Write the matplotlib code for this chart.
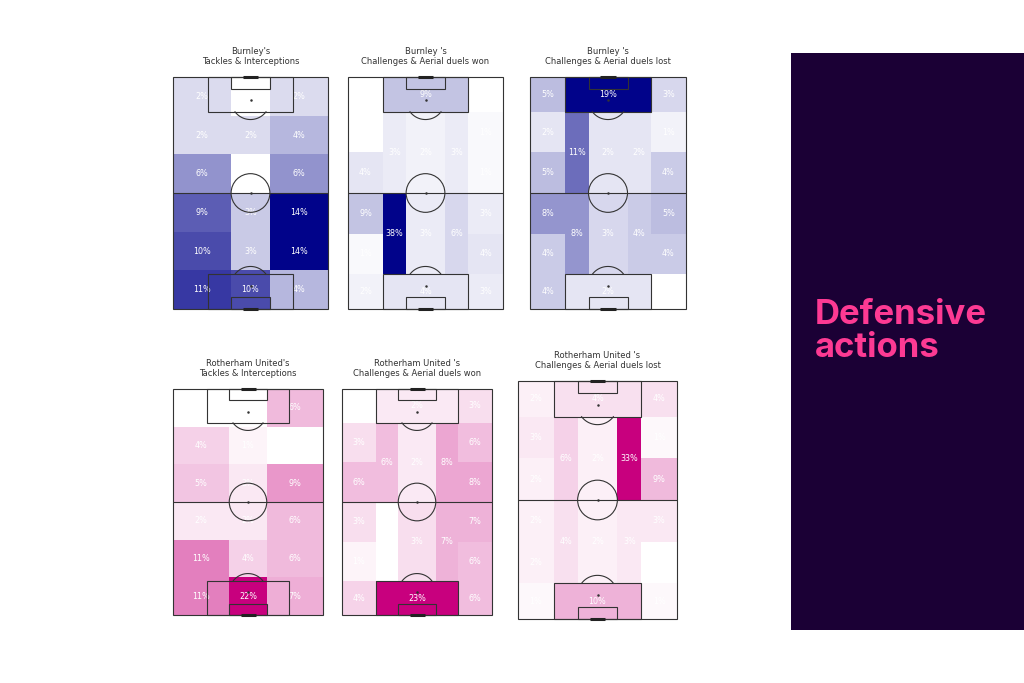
import numpy as np
import matplotlib
matplotlib.use("Agg")
import matplotlib.pyplot as plt
from matplotlib.patches import Rectangle, Circle
from matplotlib.colors import LinearSegmentedColormap

# ---- data (percent of actions per zone, rows top -> bottom) ----
# 3 x 6 grid: columns left / centre / right
bur_tackles = [[2, 0, 2],
               [2, 2, 4],
               [6, 0, 6],
               [9, 3, 14],
               [10, 3, 14],
               [11, 10, 4]]
rot_tackles = [[0, 0, 6],
               [4, 1, 0],
               [5, 2, 9],
               [2, 2, 6],
               [11, 4, 6],
               [11, 22, 7]]

# positional zones: wide columns (6 rows), inner columns (2 rows), boxes (top, bottom)
bur_won_left = [0, 0, 4, 9, 1, 2]
bur_won_right = [0, 1, 1, 3, 4, 3]
bur_won_inner = [[3, 2, 3], [38, 3, 6]]
bur_won_boxes = [9, 4]

bur_lost_left = [5, 2, 5, 8, 4, 4]
bur_lost_right = [3, 1, 4, 5, 4, 0]
bur_lost_inner = [[11, 2, 2], [8, 3, 4]]
bur_lost_boxes = [19, 2]

rot_won_left = [0, 3, 6, 3, 1, 4]
rot_won_right = [3, 6, 8, 7, 6, 6]
rot_won_inner = [[6, 2, 8], [0, 3, 7]]
rot_won_boxes = [2, 23]

rot_lost_left = [2, 3, 2, 2, 2, 1]
rot_lost_right = [4, 1, 9, 3, 0, 1]
rot_lost_inner = [[6, 2, 33], [4, 2, 3]]
rot_lost_boxes = [4, 10]

titles = ["Burnley's\nTackles & Interceptions",
          "Burnley 's\nChallenges & Aerial duels won",
          "Burnley 's\nChallenges & Aerial duels lost",
          "Rotherham United's\nTackles & Interceptions",
          "Rotherham United 's\nChallenges & Aerial duels won",
          "Rotherham United 's\nChallenges & Aerial duels lost"]

# pitch geometry (statsbomb, vertical)
grid_x = [0, 30, 50, 80]
grid_y = [0, 20, 40, 60, 80, 100, 120]
pos_x = [0, 18, 30, 50, 62, 80]
pos_y = [0, 18, 39, 60, 81, 102, 120]

blues = LinearSegmentedColormap.from_list("bur", ["#ffffff", "#01038a"])
pinks = LinearSegmentedColormap.from_list("rot", ["#ffffff", "#c8007e"])
LINE = "#333333"


def draw_pitch(ax):
    kw = dict(fill=False, ec=LINE, lw=0.8, clip_on=False, zorder=3)
    ax.add_patch(Rectangle((0, 0), 80, 120, **kw))
    ax.plot([0, 80], [60, 60], color=LINE, lw=0.8, zorder=3)
    ax.add_patch(Circle((40, 60), 10, **kw))
    ax.plot(40, 60, 'o', color=LINE, ms=0.8, zorder=3)
    for y0, sgn in [(0, 1), (120, -1)]:
        ax.add_patch(Rectangle((18, y0 if sgn == 1 else 102), 44, 18, **kw))
        ax.add_patch(Rectangle((30, y0 if sgn == 1 else 114), 20, 6, **kw))
        spot = y0 + sgn * 12
        ax.plot(40, spot, 'o', color=LINE, ms=0.8, zorder=3)
        # penalty arc: part of the 10-yard circle outside the box
        th = np.linspace(np.radians(36.87), np.radians(143.13), 60)
        ax.plot(40 + 10 * np.cos(th), spot + sgn * 10 * np.sin(th), color=LINE, lw=0.8, zorder=3)
        ax.plot([36, 44], [y0, y0], color="#222222", lw=2.2, solid_capstyle='butt', clip_on=False, zorder=4)
    ax.set_xlim(0, 80)
    ax.set_ylim(120, 0)
    ax.axis('off')


def label(ax, x, y, v):
    ax.text(x, y, f"{v}%", ha='center', va='center', color='white', fontsize=5.8, zorder=2)


def grid_heatmap(ax, values, cmap):
    vals = np.array(values)
    ax.pcolormesh(grid_x, grid_y, vals, cmap=cmap, vmin=0, vmax=vals.max(), zorder=1)
    for i in range(vals.shape[0]):
        for j in range(vals.shape[1]):
            label(ax, (grid_x[j] + grid_x[j + 1]) / 2, (grid_y[i] + grid_y[i + 1]) / 2, vals[i, j])


def positional_heatmap(ax, left, right, inner, boxes, cmap):
    g = np.zeros((6, 5))
    g[:, 0] = left
    g[:, 4] = right
    g[0, 1:4] = boxes[0]
    g[5, 1:4] = boxes[1]
    g[1:3, 1:4] = inner[0]
    g[3:5, 1:4] = inner[1]
    ax.pcolormesh(pos_x, pos_y, g, cmap=cmap, vmin=0, vmax=g.max(), zorder=1)
    for i in range(6):
        yc = (pos_y[i] + pos_y[i + 1]) / 2
        label(ax, 9, yc, left[i])
        label(ax, 71, yc, right[i])
    for r, yc in enumerate([39, 81]):
        for c in range(3):
            label(ax, (pos_x[c + 1] + pos_x[c + 2]) / 2, yc, inner[r][c])
    label(ax, 40, 9, boxes[0])
    label(ax, 40, 111, boxes[1])


W, H = 1024, 683
fig = plt.figure(figsize=(W / 100, H / 100), dpi=100)
fig.patch.set_facecolor('white')


def add_axes(x0, y0, x1, y1):
    return fig.add_axes([x0 / W, 1 - y1 / H, (x1 - x0) / W, (y1 - y0) / H])


boxes_px = [(173, 77, 328, 309), (348, 77, 503, 309), (530, 77, 686, 309),
            (173, 389, 323, 615), (342, 389, 492, 615), (518, 381, 677, 619)]
axes = [add_axes(*b) for b in boxes_px]

grid_heatmap(axes[0], bur_tackles, blues)
positional_heatmap(axes[1], bur_won_left, bur_won_right, bur_won_inner, bur_won_boxes, blues)
positional_heatmap(axes[2], bur_lost_left, bur_lost_right, bur_lost_inner, bur_lost_boxes, blues)
grid_heatmap(axes[3], rot_tackles, pinks)
positional_heatmap(axes[4], rot_won_left, rot_won_right, rot_won_inner, rot_won_boxes, pinks)
positional_heatmap(axes[5], rot_lost_left, rot_lost_right, rot_lost_inner, rot_lost_boxes, pinks)

for ax, t in zip(axes, titles):
    draw_pitch(ax)
    ax.set_title(t, fontsize=6, color='#333333', pad=9, linespacing=1.15)

# right-hand panel
side = fig.add_axes([791 / W, 1 - 630 / H, (W - 791) / W, (630 - 53) / H])
side.set_facecolor('#1b0035')
side.set_xticks([])
side.set_yticks([])
for s in side.spines.values():
    s.set_visible(False)
fig.text(815 / W, 1 - 299 / H, "Defensive\nactions", color='#fd3a93', fontsize=25,
         fontweight='bold', family='Inter', ha='left', va='top', linespacing=1.05)

fig.savefig("out.png", dpi=100)
